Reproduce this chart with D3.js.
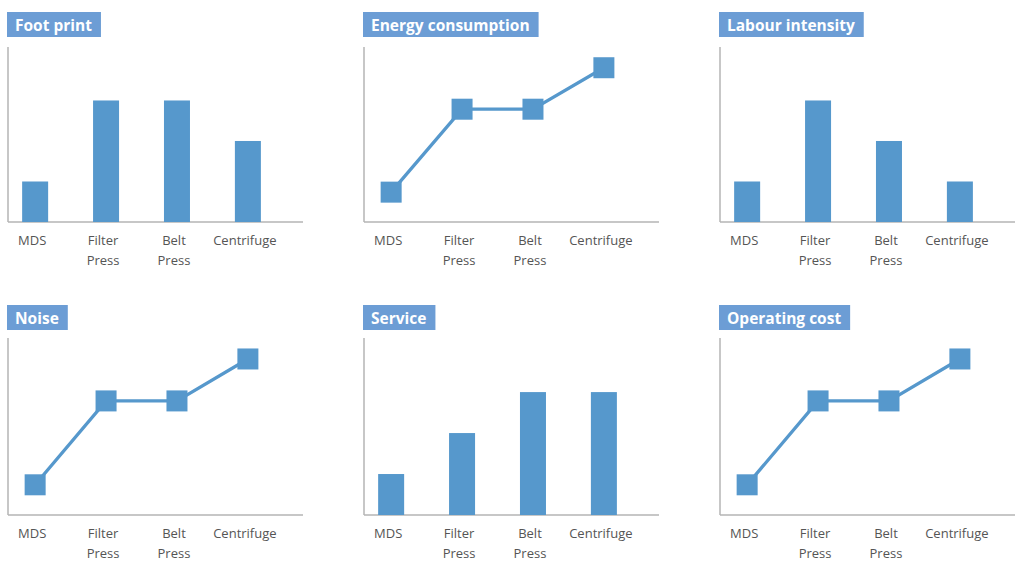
<!DOCTYPE html>
<html><head><meta charset="utf-8">
<script src="https://cdn.jsdelivr.net/npm/d3@7"></script>
<style>body{margin:0;background:#fff}svg{display:block}</style>
</head><body>
<svg id="c" width="1024" height="570"></svg>
<script>
const categories = ["MDS", "Filter Press", "Belt Press", "Centrifuge"];
const titles = ["Foot print", "Energy consumption", "Labour intensity", "Noise", "Service", "Operating cost"];
const types = ["bar", "line", "bar", "line", "bar", "line"];
const footPrint = [1, 3, 3, 2];
const energyConsumption = [1, 3, 3, 4];
const labourIntensity = [1, 3, 2, 1];
const noise = [1, 3, 3, 4];
const service = [1, 2, 3, 3];
const operatingCost = [1, 3, 3, 4];
const seriesList = [footPrint, energyConsumption, labourIntensity, noise, service, operatingCost];

const svg = d3.select("#c");
const blue = "#5698cc", titleBlue = "#6c9dd5", axisCol = "#b4b4b4", textCol = "#555555";
const font = "'Open Sans', sans-serif";
const colX = [8, 364, 720];
const rows = [{t: 12, top: 47, bot: 222}, {t: 305, top: 338, bot: 515}];
const W = 295;

seriesList.forEach((vals, i) => {
  const cx = colX[i % 3], r = rows[Math.floor(i / 3)];
  const g = svg.append("g");
  const x = d3.scalePoint().domain(categories).range([cx, cx + W]).padding(0.58).align(0.33);
  const isBar = types[i] === "bar";
  const y = isBar ? d3.scaleLinear().domain([0, 4.32]).range([r.bot, r.top])
                  : d3.scaleLinear().domain([0.28, 4.5]).range([r.bot, r.top]);
  // title
  const tg = g.append("g");
  const rect = tg.append("rect").attr("x", cx - 1).attr("y", r.t).attr("height", 25).attr("fill", titleBlue);
  const tt = tg.append("text").attr("x", cx + 7).attr("y", r.t + 18.5).text(titles[i])
    .attr("fill", "#fff").attr("font-family", font).attr("font-weight", 700).attr("font-size", 15.5);
  rect.attr("width", tt.node().getComputedTextLength() + 17);
  // axes
  g.append("line").attr("x1", cx).attr("x2", cx).attr("y1", r.top).attr("y2", r.bot)
    .attr("stroke", axisCol).attr("stroke-width", 1.5);
  g.append("line").attr("x1", cx).attr("x2", cx + W).attr("y1", r.bot).attr("y2", r.bot)
    .attr("stroke", axisCol).attr("stroke-width", 1.5);
  // labels
  categories.forEach(c => {
    const words = c.split(" ");
    const t = g.append("text").attr("text-anchor", "middle").attr("fill", textCol)
      .attr("font-family", font).attr("font-size", 13);
    words.forEach((w, k) => t.append("tspan").attr("x", x(c) - 3).attr("y", r.bot + 23 + k * 20).text(w));
  });
  if (isBar) {
    g.selectAll(".bar").data(vals).enter().append("rect")
      .attr("x", (d, k) => x(categories[k]) - 13).attr("width", 26)
      .attr("y", d => y(d)).attr("height", d => y(0) - y(d)).attr("fill", blue);
  } else {
    const line = d3.line().x((d, k) => x(categories[k])).y(d => y(d));
    g.append("path").attr("d", line(vals)).attr("fill", "none").attr("stroke", blue).attr("stroke-width", 3.3);
    g.selectAll(".m").data(vals).enter().append("rect")
      .attr("x", (d, k) => x(categories[k]) - 10.5).attr("y", d => y(d) - 10.5)
      .attr("width", 21).attr("height", 21).attr("fill", blue);
  }
});
</script>
</body></html>
